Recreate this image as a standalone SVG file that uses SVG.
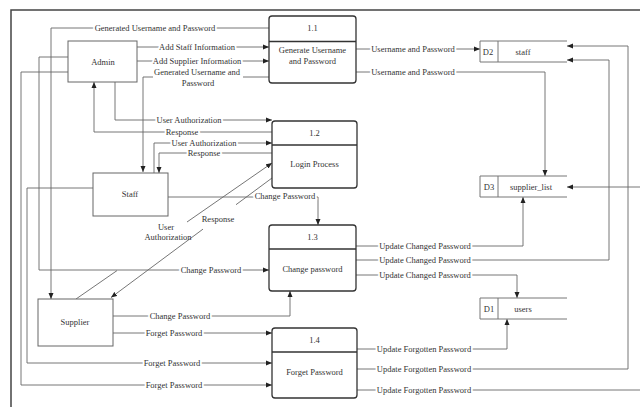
<svg xmlns="http://www.w3.org/2000/svg" width="640" height="407" viewBox="0 0 640 407">
<style>
text{font-family:"Liberation Serif","Times New Roman",serif;font-size:8.5px;fill:#333;text-anchor:middle;dominant-baseline:central}
.lbl{paint-order:stroke;stroke:#fff;stroke-width:4px;stroke-linejoin:round}
.ent{fill:#fff;stroke:#666;stroke-width:1}
.proc{fill:#fff;stroke:#333;stroke-width:1.3}
.div{stroke:#333;stroke-width:1.3}
.st{fill:none;stroke:#777;stroke-width:1}
.c path{fill:none;stroke:#666;stroke-width:0.9}
.c path.a{marker-end:url(#ah)}
</style>
<defs>
<marker id="ah" markerUnits="userSpaceOnUse" markerWidth="6" markerHeight="6" viewBox="0 0 6 6" refX="6" refY="3" orient="auto">
<path d="M0,0.5 L6,3 L0,5.5 Z" fill="#222"/>
</marker>
</defs>
<rect width="640" height="407" fill="#fff"/>
<path d="M11,407 V10 H640" fill="none" stroke="#444" stroke-width="1.5"/>

<g id="connectors" class="c">
<path class="a" d="M269,28 H51 V299"/>
<path class="a" d="M137,47 H269"/>
<path class="a" d="M137,61 H269"/>
<path class="a" d="M269,77 H243 M153,77 H143 V172"/>
<path class="a" d="M115,82 V120 H272"/>
<path class="a" d="M272,132 H94 V82"/>
<path class="a" d="M154,173 V143 H272"/>
<path class="a" d="M272,153 H159 V173"/>
<path class="a" d="M168,197 H318 V225"/>
<path class="a" d="M76,299 L117,270.6 M187,222 L272,163"/>
<path class="a" d="M272,178 L236,204.7 M203,229.1 L111,297.5"/>
<path class="a" d="M68,57 H39 V270 H269"/>
<path class="a" d="M68,72 H21 V385 H272"/>
<path class="a" d="M93,188 H27 V363 H272"/>
<path class="a" d="M113,316 H290 V291"/>
<path class="a" d="M113,333 H272"/>
<path class="a" d="M356,49 H480"/>
<path class="a" d="M356,72 H545 V176"/>
<path class="a" d="M356,246 H523 V197"/>
<path class="a" d="M356,260 H609 V60 H567"/>
<path class="a" d="M356,275 H517 V298"/>
<path class="a" d="M357,349 H507 V319"/>
<path class="a" d="M357,369 H628 V46 H567"/>
<path d="M357,390 H640"/>
<path class="a" d="M640,187 H567"/>
</g>

<g id="labels">
<text class="lbl" x="155" y="28">Generated Username and Password</text>
<text class="lbl" x="197" y="47">Add Staff Information</text>
<text class="lbl" x="197" y="61">Add Supplier Information</text>
<text x="197" y="72">Generated Username and</text>
<text x="198" y="83">Password</text>
<text class="lbl" x="189" y="120">User Authorization</text>
<text class="lbl" x="182" y="132">Response</text>
<text class="lbl" x="204" y="143">User Authorization</text>
<text class="lbl" x="204" y="153">Response</text>
<text class="lbl" x="285" y="196">Change Password</text>
<text x="166" y="227">User</text>
<text x="168" y="237">Authorization</text>
<text x="218" y="219">Response</text>
<text class="lbl" x="211" y="270">Change Password</text>
<text class="lbl" x="180" y="316">Change Password</text>
<text class="lbl" x="174" y="333">Forget Password</text>
<text class="lbl" x="172" y="363">Forget Password</text>
<text class="lbl" x="174" y="385">Forget Password</text>
<text class="lbl" x="413" y="49">Username and Password</text>
<text class="lbl" x="413" y="72">Username and Password</text>
<text class="lbl" x="425" y="246">Update Changed Password</text>
<text class="lbl" x="425" y="260">Update Changed Password</text>
<text class="lbl" x="425" y="275">Update Changed Password</text>
<text class="lbl" x="424" y="349">Update Forgotten Password</text>
<text class="lbl" x="424" y="369">Update Forgotten Password</text>
<text class="lbl" x="424" y="390">Update Forgotten Password</text>
</g>

<g id="admin"><rect class="ent" x="68" y="41" width="69" height="41"/><text x="103" y="62">Admin</text></g>
<g id="staff"><rect class="ent" x="93" y="173" width="75" height="43"/><text x="130" y="194">Staff</text></g>
<g id="supplier"><rect class="ent" x="38" y="299" width="75" height="47"/><text x="75" y="322">Supplier</text></g>

<g id="p1_1"><rect class="proc" x="269" y="16" width="87" height="67" rx="3"/><line class="div" x1="269" y1="41.5" x2="356" y2="41.5"/><text x="312.5" y="28">1.1</text><text x="312.5" y="50">Generate Username</text><text x="312.5" y="61">and Password</text></g>
<g id="p1_2"><rect class="proc" x="272" y="121" width="85" height="67" rx="3"/><line class="div" x1="272" y1="145" x2="357" y2="145"/><text x="314.5" y="133">1.2</text><text x="314.5" y="164">Login Process</text></g>
<g id="p1_3"><rect class="proc" x="269" y="225" width="87" height="66" rx="3"/><line class="div" x1="269" y1="249" x2="356" y2="249"/><text x="312.5" y="237">1.3</text><text x="312.5" y="269">Change password</text></g>
<g id="p1_4"><rect class="proc" x="272" y="328" width="85" height="70" rx="3"/><line class="div" x1="272" y1="352" x2="357" y2="352"/><text x="314.5" y="340">1.4</text><text x="314.5" y="372">Forget Password</text></g>

<g id="d2"><path class="st" d="M567,41 H480 V62 H567 M498,41 V62"/><text x="488" y="51.5">D2</text><text x="523" y="51.5">staff</text></g>
<g id="d3"><path class="st" d="M567,176 H480 V197 H567 M498,176 V197"/><text x="489" y="186.5">D3</text><text x="531" y="186.5">supplier_list</text></g>
<g id="d1"><path class="st" d="M567,298 H480 V319 H567 M498,298 V319"/><text x="489" y="308.5">D1</text><text x="523" y="308.5">users</text></g>
</svg>
